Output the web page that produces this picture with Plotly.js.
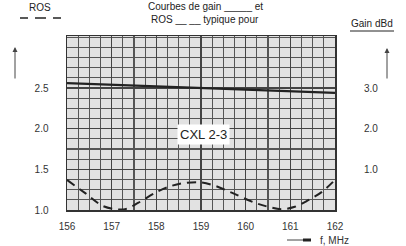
<!DOCTYPE html>
<html><head><meta charset="utf-8">
<script src="https://cdn.plot.ly/plotly-3.0.1.min.js"></script>
<style>html,body{margin:0;padding:0;background:#fff}#c{width:406px;height:246px}</style>
</head><body><div id="c"></div>
<script>
// Frequency axis (MHz)
const freqTicks = [156, 157, 158, 159, 160, 161, 162];
const freqTickLabels = ['156', '157', '158', '159', '160', '161', '162'];
// ROS (VSWR) typical curve
const rosFreq = [156, 156.4, 156.8, 157.1, 157.3, 157.6, 158.0, 158.3, 158.6, 159.0, 159.3, 159.7, 160.2, 160.5, 160.8, 161.1, 161.4, 161.7, 162];
const rosVal  = [1.37, 1.21, 1.05, 1.01, 1.01, 1.09, 1.22, 1.29, 1.33, 1.34, 1.30, 1.21, 1.09, 1.04, 1.01, 1.04, 1.12, 1.22, 1.37];
// Gain curve (dBd)
const gainFreq = [156, 159, 162];
const gainVal  = [3.12, 3.0, 2.88];
// Axis tick labels
const rosTicks = [1.0, 1.5, 2.0, 2.5];
const rosTickLabels = ['1.0', '1.5', '2.0', '2.5'];
const gainTicks = [1, 2, 3];
const gainTickLabels = ['1.0', '2.0', '3.0'];

const L = 67, R = 335, T = 36, B = 210, W = 406, H = 246;
const px = x => (x - L) / (R - L);
const py = y => (B - y) / (B - T);

const font = {family: 'Liberation Sans, Arial, sans-serif', size: 10, color: '#333'};
const tfont = {family: font.family, size: 10, color: '#222'};

const traces = [
  {x: gainFreq, y: gainVal, yaxis: 'y2', mode: 'lines', line: {color: '#222', width: 2.2}, hoverinfo: 'skip'},
  {x: rosFreq, y: rosVal, mode: 'lines', line: {color: '#222', width: 2, dash: '9px,6px', shape: 'spline'}, hoverinfo: 'skip'}
];

const layout = {
  width: W, height: H,
  margin: {l: L, r: W - R, t: T, b: H - B},
  paper_bgcolor: '#fff', plot_bgcolor: '#e2e2e2',
  showlegend: false,
  font: font,
  xaxis: {range: [156, 162], tickvals: freqTicks, ticktext: freqTickLabels, showgrid: true, gridcolor: '#444', gridwidth: 1.5,
          minor: {tickmode: 'linear', tick0: 156, dtick: 0.25, showgrid: true, gridcolor: '#555', gridwidth: 1.2}, zeroline: false, ticks: '',
          showline: true, linecolor: '#333', linewidth: 1.5, mirror: true, tickfont: font, ticklabelstandoff: 6},
  yaxis: {range: [1.0, 3.14], tickvals: rosTicks, ticktext: rosTickLabels, showgrid: true, gridcolor: '#444', gridwidth: 1.5,
          minor: {tickmode: 'linear', tick0: 1, dtick: 0.125, showgrid: true, gridcolor: '#555', gridwidth: 1.2}, zeroline: false, ticks: '',
          showline: true, linecolor: '#333', linewidth: 1.5, mirror: true, tickfont: font, ticklabelstandoff: 15},
  yaxis2: {range: [0, 4.28], overlaying: 'y', side: 'right', tickvals: gainTicks, ticktext: gainTickLabels, showgrid: false,
           zeroline: false, ticks: '', tickfont: font, ticklabelstandoff: 28},
  annotations: [
    {xref: 'paper', yref: 'paper', x: px(205), y: py(7), text: 'Courbes de gain _____ et', showarrow: false, font: tfont, xanchor: 'center', yanchor: 'middle'},
    {xref: 'paper', yref: 'paper', x: px(205), y: py(19), text: 'ROS __ __ typique pour', showarrow: false, font: tfont, xanchor: 'center', yanchor: 'middle'},
    {xref: 'paper', yref: 'paper', x: px(40), y: py(8), text: 'ROS', showarrow: false, font: tfont, xanchor: 'center', yanchor: 'middle'},
    {xref: 'paper', yref: 'paper', x: px(372), y: py(23), text: 'Gain dBd', showarrow: false, font: tfont, xanchor: 'center', yanchor: 'middle'},
    {xref: 'paper', yref: 'paper', x: px(203), y: py(134), text: 'CXL 2-3', showarrow: false, font: {family: font.family, size: 13, color: '#222'}, xanchor: 'center', yanchor: 'middle', bgcolor: '#fff', borderpad: 2},
    {xref: 'paper', yref: 'paper', x: px(318), y: py(240), text: 'f, MHz', showarrow: false, font: font, xanchor: 'left', yanchor: 'middle'},
    {xref: 'paper', yref: 'paper', x: px(15), y: py(47), text: '', showarrow: true, ax: 0, ay: 33, arrowhead: 2, arrowsize: 1, arrowwidth: 1, arrowcolor: '#444'},
    {xref: 'paper', yref: 'paper', x: px(387), y: py(48), text: '', showarrow: true, ax: 0, ay: 32, arrowhead: 2, arrowsize: 1, arrowwidth: 1, arrowcolor: '#444'}
  ],
  shapes: [
    // ROS dashes under label
    {type: 'line', xref: 'paper', yref: 'paper', x0: px(20), x1: px(28), y0: py(18), y1: py(18), line: {color: '#222', width: 1.5}},
    {type: 'line', xref: 'paper', yref: 'paper', x0: px(35), x1: px(46), y0: py(18), y1: py(18), line: {color: '#222', width: 1.5}},
    {type: 'line', xref: 'paper', yref: 'paper', x0: px(53), x1: px(61), y0: py(18), y1: py(18), line: {color: '#222', width: 1.5}},
    // Gain dBd underline
    {type: 'line', xref: 'paper', yref: 'paper', x0: px(350), x1: px(394), y0: py(31), y1: py(31), line: {color: '#222', width: 1}},
    // frequency legend arrow
    {type: 'line', xref: 'paper', yref: 'paper', x0: px(287), x1: px(306), y0: py(240), y1: py(240), line: {color: '#444', width: 1}},
    {type: 'rect', xref: 'paper', yref: 'paper', x0: px(303), x1: px(311), y0: py(241.5), y1: py(238.5), fillcolor: '#222', line: {width: 0}}
  ]
};

Plotly.newPlot('c', traces, layout, {staticPlot: true, displayModeBar: false});
</script></body></html>
